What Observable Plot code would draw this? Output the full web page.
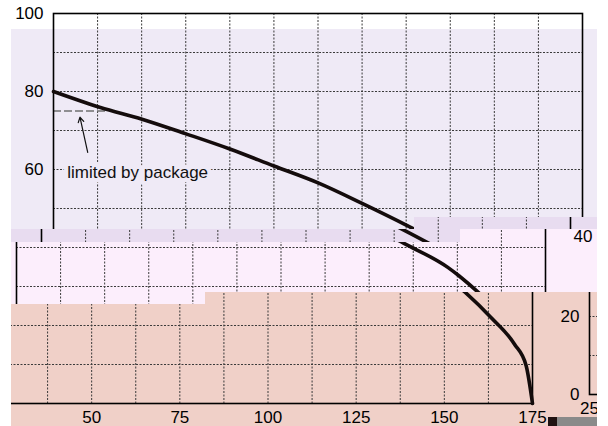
<!DOCTYPE html>
<html>
<head>
<meta charset="utf-8">
<script src="https://cdn.jsdelivr.net/npm/d3@7"></script>
<script src="https://cdn.jsdelivr.net/npm/@observablehq/plot@0.6"></script>
<style>
html, body { margin: 0; padding: 0; background: #ffffff; }
#page { position: relative; width: 608px; height: 426px; overflow: hidden; background: #ffffff; }
.piece { position: absolute; overflow: hidden; }
.piece svg { position: absolute; }
</style>
</head>
<body>
<div id="page"></div>
<script>
// ---- data ----
const temperature = [25, 38.3, 50.1, 62.4, 75.2, 87.5, 100.2, 112.5, 125.3, 135.0, 147.3, 155.8, 163.3, 169.9, 173.2, 175];
const current     = [80, 75.9, 72.9, 69.2, 65.2, 60.9, 56.5, 51.3, 45.6, 41.0, 34.9, 28.6, 22.0, 15.2, 9.7, 0];

const xTickValues = [25, 50, 75, 100, 125, 150, 175];
const yTickValues = [0, 20, 40, 60, 80, 100];
const xGridValues = [37.5, 50, 62.5, 75, 87.5, 100, 112.5, 125, 137.5, 150, 162.5];
const yGridValues = [10, 20, 30, 40, 50, 60, 70, 80, 90];

const packageLimit = [{ y: 75, x1: 25, x2: 39.8 }];
const noteLabel = ["limited by package"];
const noteX = [28.9];
const noteY = [59.3];
const arrowFrom = [{ x: 34.7, y: 64.4 }];
const arrowTo = [{ x: 32.5, y: 73.4 }];

// ---- chart ----
function makeChart(halo) {
  const rows = temperature.map((t, i) => ({ t, a: current[i] }));
  const notes = noteLabel.map((label, i) => ({ label, x: noteX[i], y: noteY[i] }));
  const arrows = arrowFrom.map((f, i) => ({ x1: f.x, y1: f.y, x2: arrowTo[i].x, y2: arrowTo[i].y }));
  return Plot.plot({
    width: 586,
    height: 440,
    marginLeft: 42,
    marginRight: 15,
    marginTop: 13,
    marginBottom: 37,
    style: {
      background: "transparent",
      fontFamily: "'Liberation Sans', Arial, sans-serif",
      fontSize: "17px",
      color: "#000",
      overflow: "visible",
      maxWidth: "none"
    },
    x: { domain: [25, 175], label: null },
    y: { domain: [0, 100], label: null },
    marks: [
      Plot.gridX(xGridValues, { stroke: "#3a3a3a", strokeOpacity: 1, strokeDasharray: "2,1.5" }),
      Plot.gridY(yGridValues, { stroke: "#3a3a3a", strokeOpacity: 1, strokeDasharray: "2,1.5" }),
      Plot.ruleY(packageLimit, { y: "y", x1: "x1", x2: "x2", stroke: "#707070", strokeWidth: 1.4, strokeDasharray: "8,3" }),
      Plot.text(notes, {
        x: "x", y: "y", text: "label", textAnchor: "start", fontSize: 17,
        fill: "#111", stroke: halo, strokeWidth: 9, paintOrder: "stroke", strokeLinejoin: "round"
      }),
      Plot.arrow(arrows, { x1: "x1", y1: "y1", x2: "x2", y2: "y2", stroke: "#111", strokeWidth: 1.2, headLength: 7 }),
      Plot.frame({ stroke: "#000", strokeWidth: 1.6 }),
      Plot.line(rows, { x: "t", y: "a", stroke: "#140c0c", strokeWidth: 3.6, curve: "monotone-x" }),
      Plot.axisX(xTickValues, { tickSize: 0, tickPadding: 7, fontSize: 17, label: null }),
      Plot.axisY(yTickValues, { tickSize: 0, tickPadding: 10, fontSize: 17, label: null })
    ]
  });
}

// ---- the reference picture is made of horizontally shifted strips ----
const page = document.getElementById("page");
const X0 = 11;      // left edge of the picture content
const PW = 586;     // wrap period
const LAV = "#efeaf6", LAV2 = "#e8dcf0", PINK = "#fceefc", SALMON = "#f0d0c8";

function piece(x0, y0, x1, y1, s, bg, wrapDy) {
  const wrap = wrapDy !== undefined;
  const div = document.createElement("div");
  div.className = "piece";
  div.style.left = x0 + "px";
  div.style.top = y0 + "px";
  div.style.width = (x1 - x0) + "px";
  div.style.height = (y1 - y0) + "px";
  div.style.background = bg;
  const svg = makeChart(bg);
  const left = X0 - s + (wrap ? PW : 0) - x0;
  const top = (wrap ? wrapDy : 0) - y0;
  svg.style.left = left + "px";
  svg.style.top = top + "px";
  svg.style.width = "586px";
  svg.style.height = "440px";
  svg.style.maxWidth = "none";
  div.appendChild(svg);
  page.appendChild(div);
  // drop texts of this copy whose centre falls outside its strip
  const box = div.getBoundingClientRect();
  svg.querySelectorAll("text").forEach(t => {
    const r = t.getBoundingClientRect();
    const cx = (r.left + r.right) / 2, cy = (r.top + r.bottom) / 2;
    const inside = cx > box.left && cx < box.right && cy > box.top && cy < box.bottom;
    if (!inside) t.remove();
  });
}

// top strip (unshifted, white)
piece(0, 0, 608, 29, 0, "#ffffff");
// lavender strip (unshifted)
piece(X0, 29, 414, 229, 0, LAV);
piece(414, 29, 597, 217, 0, LAV);
// thin darker strip
piece(X0, 229, 460, 242, 12, LAV2);
piece(414, 217, 597, 229, 12, LAV2);
// pink strip
piece(460, 229, 560, 292, 37, PINK);
piece(560, 229, 597, 292, 37, PINK, -11);
piece(X0, 242, 460, 292, 37, PINK);
piece(X0, 292, 205, 304, 37, PINK);
// salmon strip
piece(205, 292, 547, 426, 50, SALMON);
piece(X0, 304, 205, 426, 50, SALMON);
piece(547, 292, 597, 426, 50, SALMON, -9);

// small dark bar at the bottom right of the picture
const bar1 = document.createElement("div");
bar1.style.cssText = "position:absolute;left:548px;top:417px;width:9px;height:9px;background:#201212;";
const bar2 = document.createElement("div");
bar2.style.cssText = "position:absolute;left:557px;top:417px;width:40px;height:9px;background:#8a8a8a;";
page.appendChild(bar1);
page.appendChild(bar2);
</script>
</body>
</html>
